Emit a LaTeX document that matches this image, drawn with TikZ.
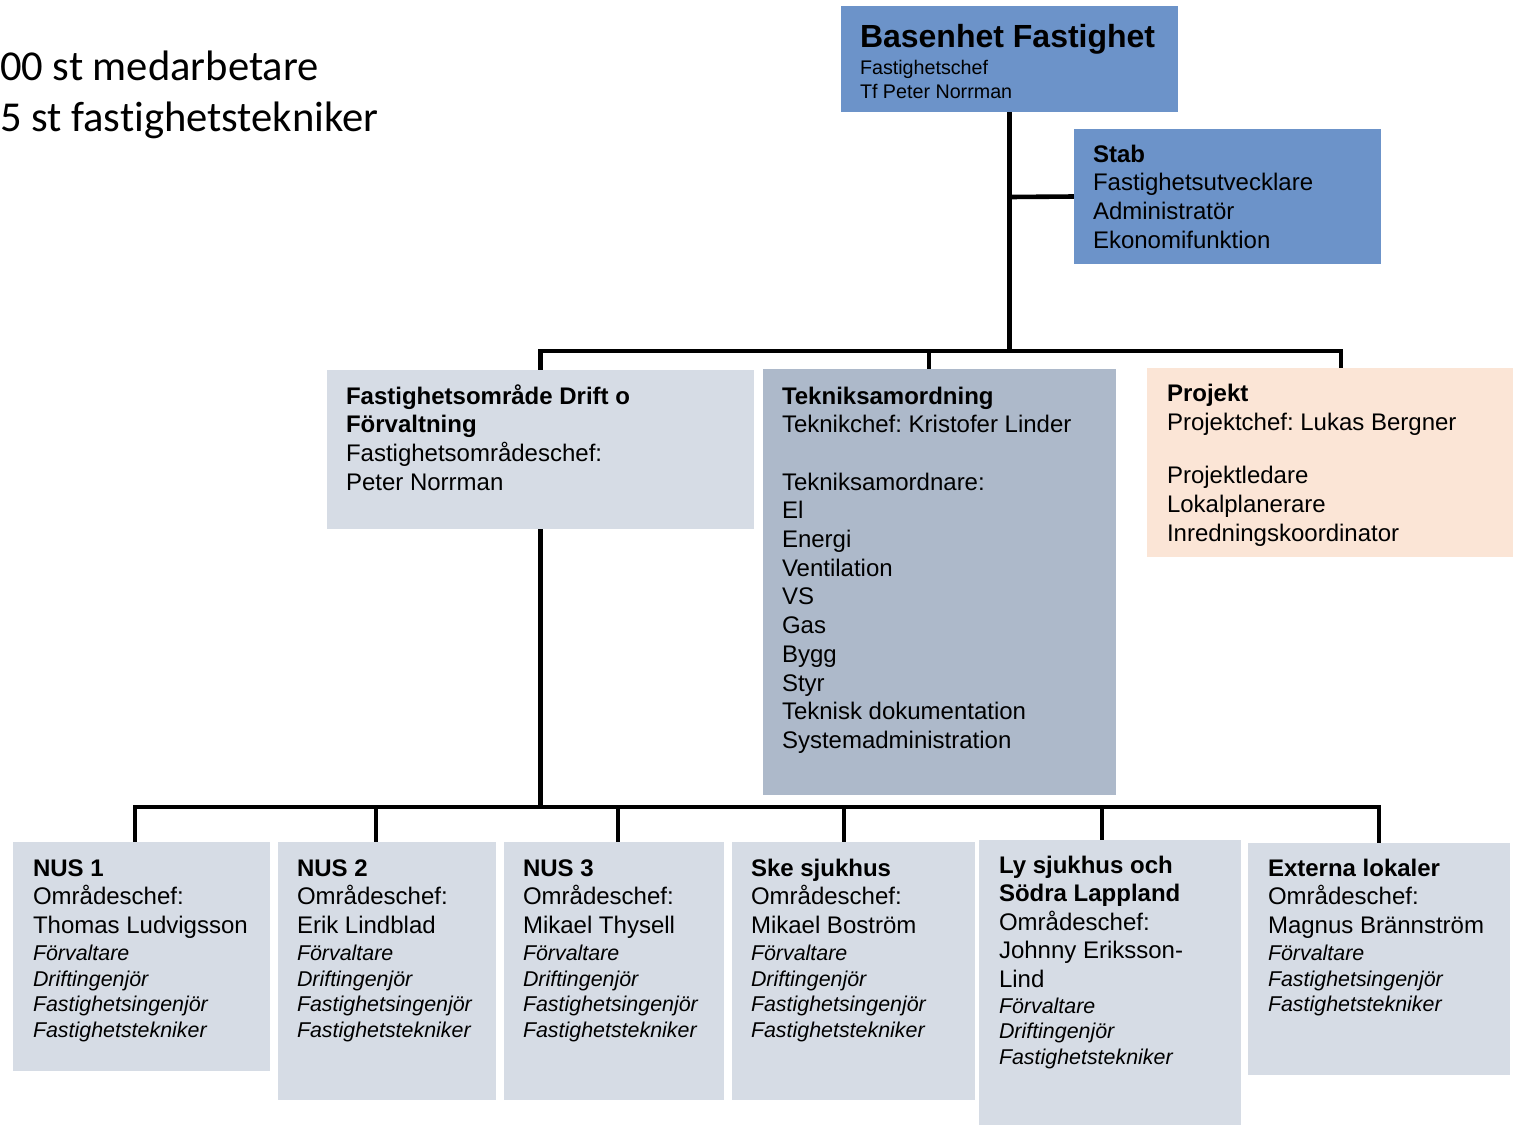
\documentclass[tikz,border=0pt]{standalone}
\usepackage{fontspec}
\setmainfont{Liberation Sans}
\newfontfamily\calibri[Ligatures=NoCommon]{Carlito}
\usetikzlibrary{backgrounds}
\frenchspacing
\definecolor{topblue}{RGB}{108,147,201}
\definecolor{boxgray}{HTML}{D6DCE5}
\definecolor{teknblue}{HTML}{ADB9CA}
\definecolor{projpeach}{HTML}{FBE5D6}
\newcommand\RB[2]{\baselineskip=#1pt\relax\hbox{\fontsize{24}{24}\selectfont\bfseries #2}}
\newcommand\RR[2]{\baselineskip=#1pt\relax\hbox{\fontsize{24}{24}\selectfont #2}}
\newcommand\RI[2]{\baselineskip=#1pt\relax\hbox{\fontsize{21.4}{24}\selectfont\itshape #2}}
\newcommand\LINES[1]{\vtop{\lineskiplimit=-1000pt\relax #1}}
\tikzset{
  box/.style={rectangle, draw=none, inner sep=0pt, outer sep=0pt, anchor=north west},
  txt/.style={inner sep=0pt, outer sep=0pt, anchor=base west},
  conn/.style={line width=4.6pt, line cap=rect, line join=miter, draw=black},
}
\begin{document}
\frenchspacing
\begin{tikzpicture}[x=1pt,y=-1pt]
\useasboundingbox (0,0) rectangle (1514,1125);
% boxes
\node[box,fill=topblue,minimum width=337pt,minimum height=106pt] (base) at (841,6) {};
\node[box,fill=topblue,minimum width=307pt,minimum height=135pt] (stab) at (1074,129) {};
\node[box,fill=boxgray,minimum width=427pt,minimum height=159pt] (drift) at (327,370) {};
\node[box,fill=teknblue,minimum width=353pt,minimum height=426pt] (tekn) at (763,369) {};
\node[box,fill=projpeach,minimum width=366pt,minimum height=189pt] (proj) at (1147,368) {};
\node[box,fill=boxgray,minimum width=257pt,minimum height=229pt] (nus1) at (13,842) {};
\node[box,fill=boxgray,minimum width=218pt,minimum height=258pt] (nus2) at (278,842) {};
\node[box,fill=boxgray,minimum width=220pt,minimum height=258pt] (nus3) at (504,842) {};
\node[box,fill=boxgray,minimum width=243pt,minimum height=258pt] (ske) at (732,842) {};
\node[box,fill=boxgray,minimum width=262pt,minimum height=285pt] (ly) at (979,840) {};
\node[box,fill=boxgray,minimum width=262pt,minimum height=232pt] (ext) at (1248,843) {};
% connectors
\begin{scope}[on background layer]
\coordinate (jstab) at (1009.5,197);
\coordinate (j1) at (1009.5,351);
\coordinate (busL) at (540.5,351);
\coordinate (jt) at (929,351);
\coordinate (busR) at (1341,351);
\draw[conn] (base.south) -- (j1);
\draw[conn] (jstab) -- (stab.west);
\draw[conn] (drift.north) -- (busL) -- (busR) -- (busR |- proj.north);
\draw[conn] (jt) -- (jt |- tekn.north);
\coordinate (b0) at (540.5,807);
\coordinate (bL) at (135,807);
\coordinate (bR) at (1379,807);
\coordinate (d2) at (376,807);
\coordinate (d3) at (618,807);
\coordinate (d4) at (844,807);
\coordinate (d5) at (1102,807);
\draw[conn] (drift.south) -- (b0);
\draw[conn] (bL |- nus1.north) -- (bL) -- (bR) -- (bR |- ext.north);
\draw[conn] (d2) -- (d2 |- nus2.north);
\draw[conn] (d3) -- (d3 |- nus3.north);
\draw[conn] (d4) -- (d4 |- ske.north);
\draw[conn] (d5) -- (d5 |- ly.north);
\end{scope}
% texts
\node[txt] (tcount) at (0,80) {\LINES{\baselineskip=51pt\relax
  \hbox{\calibri\fontsize{42.6}{51}\selectfont 00 st medarbetare}
  \hbox{\calibri\fontsize{42.6}{51}\selectfont 5 st fastighetstekniker}}};
\node[txt] (tbase) at (860,47) {\LINES{%
  \hbox{\fontsize{32}{32}\selectfont\bfseries Basenhet Fastighet}%
  \baselineskip=27pt\relax\hbox{\fontsize{19.7}{24}\selectfont Fastighetschef}%
  \baselineskip=24pt\relax\hbox{\fontsize{19.7}{24}\selectfont Tf Peter Norrman}}};
\node[txt] (tstab) at (1093,162) {\LINES{\RB{28.7}{Stab}\RR{28.7}{Fastighetsutvecklare}\RR{28.7}{Administratör}\RR{28.7}{Ekonomifunktion}}};
\node[txt] (tdrift) at (346,404) {\LINES{\RB{28.7}{Fastighetsområde Drift o}\RB{28.7}{Förvaltning}\RR{28.7}{Fastighetsområdeschef:}\RR{28.7}{Peter Norrman}}};
\node[txt] (ttekn) at (782,404) {\LINES{\RB{28.7}{Tekniksamordning}\RR{28.7}{Teknikchef: Kristofer Linder}\baselineskip=28.7pt\relax\hbox{}\RR{28.7}{Tekniksamordnare:}\RR{28.7}{El}\RR{28.7}{Energi}\RR{28.7}{Ventilation}\RR{28.7}{VS}\RR{28.7}{Gas}\RR{28.7}{Bygg}\RR{28.7}{Styr}\RR{28.7}{Teknisk dokumentation}\RR{28.7}{Systemadministration}}};
\node[txt] (tproj) at (1167,401) {\LINES{\RB{29}{Projekt}\RR{29.5}{Projektchef: Lukas Bergner}\RR{53}{Projektledare}\RR{29}{Lokalplanerare}\RR{29}{Inredningskoordinator}}};
\node[txt] (tnus1) at (33,876) {\LINES{\RB{28.5}{NUS 1}\RR{28.5}{Områdeschef:}\RR{28.5}{Thomas Ludvigsson}\RI{27.3}{Förvaltare}\RI{25.7}{Driftingenjör}\RI{25.7}{Fastighetsingenjör}\RI{25.7}{Fastighetstekniker}}};
\node[txt] (tnus2) at (297,876) {\LINES{\RB{28.5}{NUS 2}\RR{28.5}{Områdeschef:}\RR{28.5}{Erik Lindblad}\RI{27.3}{Förvaltare}\RI{25.7}{Driftingenjör}\RI{25.7}{Fastighetsingenjör}\RI{25.7}{Fastighetstekniker}}};
\node[txt] (tnus3) at (523,876) {\LINES{\RB{28.5}{NUS 3}\RR{28.5}{Områdeschef:}\RR{28.5}{Mikael Thysell}\RI{27.3}{Förvaltare}\RI{25.7}{Driftingenjör}\RI{25.7}{Fastighetsingenjör}\RI{25.7}{Fastighetstekniker}}};
\node[txt] (tske) at (751,876) {\LINES{\RB{28.5}{Ske sjukhus}\RR{28.5}{Områdeschef:}\RR{28.5}{Mikael Boström}\RI{27.3}{Förvaltare}\RI{25.7}{Driftingenjör}\RI{25.7}{Fastighetsingenjör}\RI{25.7}{Fastighetstekniker}}};
\node[txt] (tly) at (999,873) {\LINES{\RB{28.5}{Ly sjukhus och}\RB{28.5}{Södra Lappland}\RR{28.5}{Områdeschef:}\RR{28.5}{Johnny Eriksson-}\RR{28.5}{Lind}\RI{26}{Förvaltare}\RI{25.7}{Driftingenjör}\RI{25.7}{Fastighetstekniker}}};
\node[txt] (text) at (1268,876) {\LINES{\RB{28.5}{Externa lokaler}\RR{28.5}{Områdeschef:}\RR{28.5}{Magnus Brännström}\RI{27.3}{Förvaltare}\RI{25.7}{Fastighetsingenjör}\RI{25.7}{Fastighetstekniker}}};
\end{tikzpicture}
\end{document}
